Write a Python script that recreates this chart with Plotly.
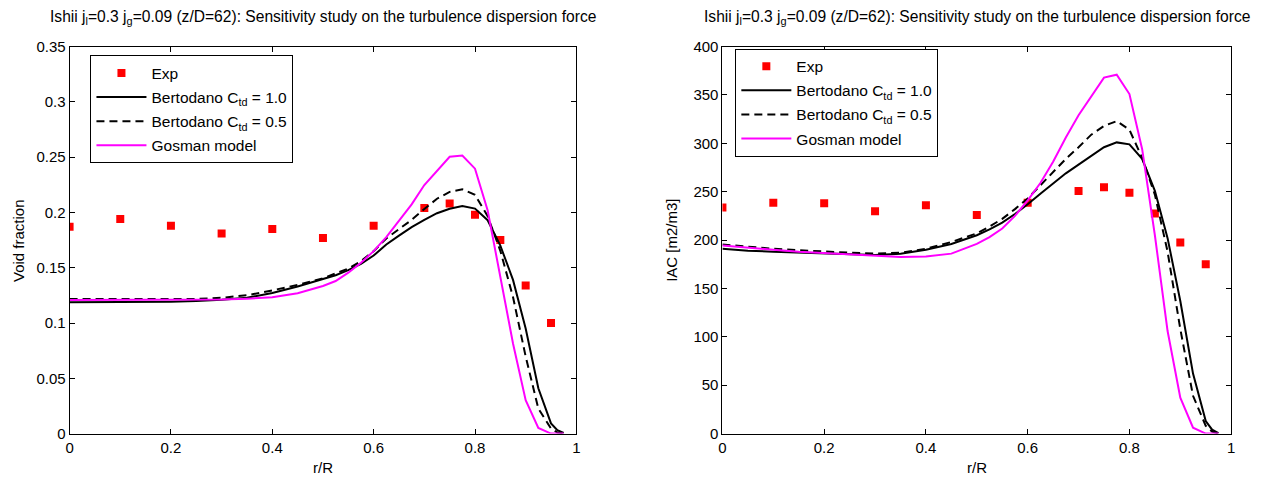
import plotly.graph_objects as go

# Experimental data (Ishii, j_l=0.3, j_g=0.09, z/D=62)
exp_r = [0.0, 0.1, 0.2, 0.3, 0.4, 0.5, 0.6, 0.7, 0.75, 0.8, 0.85, 0.9, 0.95]
exp_void = [0.187, 0.194, 0.188, 0.181, 0.185, 0.177, 0.188, 0.204, 0.208, 0.198, 0.175, 0.134, 0.100]
exp_iac = [233.7, 238.5, 238.0, 229.7, 236.0, 226.0, 238.5, 250.7, 254.5, 249.0, 227.5, 197.5, 175.0]

# Simulation radial positions
sim_r = [0.0, 0.05, 0.1, 0.15, 0.2, 0.25, 0.3, 0.35, 0.4, 0.45, 0.5, 0.525, 0.55, 0.575,
         0.6, 0.625, 0.65, 0.675, 0.7, 0.725, 0.75, 0.775, 0.8, 0.825, 0.85, 0.875,
         0.9, 0.925, 0.95, 0.9625, 0.975]

# Void fraction
void_ctd10 = [0.1187, 0.1187, 0.1188, 0.1190, 0.1193, 0.1199, 0.1210, 0.1228, 0.1272, 0.1330,
              0.1395, 0.1432, 0.1478, 0.1535, 0.1610, 0.1710, 0.1790, 0.1867, 0.1932, 0.1993,
              0.2033, 0.2058, 0.2035, 0.1930, 0.1700, 0.1390, 0.0950, 0.0410, 0.0092, 0.0030, 0.0005]
void_ctd05 = [0.1216, 0.1216, 0.1216, 0.1216, 0.1216, 0.1218, 0.1228, 0.1251, 0.1295, 0.1345,
              0.1405, 0.1445, 0.1492, 0.1560, 0.1650, 0.1765, 0.1846, 0.1933, 0.2031, 0.2124,
              0.2186, 0.2210, 0.2160, 0.1966, 0.1653, 0.1235, 0.0697, 0.0226, 0.0045, 0.0010, 0.0]
void_gosman = [0.1207, 0.1207, 0.1207, 0.1207, 0.1207, 0.1207, 0.1212, 0.1220, 0.1232, 0.1270,
               0.1335, 0.1380, 0.1455, 0.1545, 0.1650, 0.1777, 0.1927, 0.2073, 0.2248, 0.2380,
               0.2504, 0.2515, 0.2396, 0.2018, 0.1417, 0.0815, 0.0302, 0.0050, 0.0, 0.0, 0.0]

# Interfacial area concentration
iac_ctd10 = [191.0, 189.0, 188.0, 187.0, 186.0, 185.0, 184.5, 186.0, 190.0, 196.0,
             205.0, 211.0, 218.0, 227.0, 237.0, 248.0, 259.0, 269.0, 278.0, 287.0,
             296.0, 301.0, 299.0, 284.0, 251.0, 202.0, 137.0, 62.0, 13.0, 4.0, 0.5]
iac_ctd05 = [195.5, 193.0, 191.0, 189.5, 188.0, 187.0, 186.0, 187.0, 191.0, 198.0,
             207.0, 214.0, 222.0, 232.0, 243.0, 257.0, 270.0, 284.0, 296.0, 309.0,
             318.0, 323.0, 314.0, 285.0, 247.0, 188.0, 108.0, 39.0, 8.0, 2.0, 0.0]
iac_gosman = [194.5, 192.0, 190.0, 188.0, 186.5, 185.0, 183.5, 182.5, 183.0, 186.0,
              196.0, 203.0, 212.0, 225.0, 241.0, 259.0, 281.0, 306.0, 329.0, 348.0,
              368.0, 371.0, 351.0, 294.0, 205.0, 106.0, 37.0, 6.0, 0.0, 0.0, 0.0]

names = ["Exp", "Bertodano C<sub>td</sub> = 1.0", "Bertodano C<sub>td</sub> = 0.5", "Gosman model"]
title_txt = ("Ishii j<sub>l</sub>=0.3 j<sub>g</sub>=0.09 (z/D=62): "
             "Sensitivity study on the turbulence dispersion force")

FONT = "Liberation Sans, Arial, Helvetica, sans-serif"
RED = "#ff0000"
MAGENTA = "#ff00ff"

fig = go.Figure()

panels = [
    ("x", "y", "legend", "L", exp_void, [void_ctd10, void_ctd05, void_gosman]),
    ("x2", "y2", "legend2", "R", exp_iac, [iac_ctd10, iac_ctd05, iac_gosman]),
]
for xa, ya, lg, tag, exp_vals, sims in panels:
    fig.add_trace(go.Scatter(
        x=exp_r, y=exp_vals, mode="markers", name=names[0], xaxis=xa, yaxis=ya,
        legend=lg, legendgroup=tag + "0",
        marker=dict(symbol="square", size=8, color=RED, line=dict(width=0))))
    styles = [dict(color="black", width=2, dash="solid"),
              dict(color="black", width=2, dash="8px,5px"),
              dict(color=MAGENTA, width=2, dash="solid")]
    for i, (nm, vals, st) in enumerate(zip(names[1:], sims, styles), start=1):
        fig.add_trace(go.Scatter(
            x=sim_r, y=vals, mode="lines", name=nm, xaxis=xa, yaxis=ya,
            legend=lg, legendgroup=tag + str(i), line=st))

W, H = 1264, 484
left_dom = [66 / W, 576 / W]
right_dom = [723 / W, 1235 / W]
y_dom = [44 / H, 445 / H]

axis_common = dict(
    showline=True, linecolor="black", linewidth=1, mirror="ticks",
    ticks="inside", ticklen=5, tickcolor="black", tickwidth=1,
    showgrid=False, zeroline=False,
    tickfont=dict(family=FONT, size=15, color="black"),
)

legend_common = dict(
    xanchor="left", yanchor="top", bordercolor="black", borderwidth=1, bgcolor="white",
    font=dict(family=FONT, size=15.5), traceorder="grouped", tracegroupgap=1,
    itemwidth=50,
)

fig.update_layout(
    width=W, height=H,
    margin=dict(l=0, r=0, t=0, b=0),
    paper_bgcolor="white", plot_bgcolor="white",
    font=dict(family=FONT, size=15, color="black"),
    xaxis=dict(domain=left_dom, anchor="y", range=[0, 1], dtick=0.2, **axis_common),
    yaxis=dict(domain=y_dom, anchor="x", range=[0, 0.35], dtick=0.05, **axis_common),
    xaxis2=dict(domain=right_dom, anchor="y2", range=[0, 1], dtick=0.2, **axis_common),
    yaxis2=dict(domain=y_dom, anchor="x2", range=[0, 400], dtick=50, **axis_common),
    legend=dict(x=87 / W, y=1 - 48 / H, **legend_common),
    legend2=dict(x=736 / W, y=1 - 41 / H, **legend_common),
    showlegend=True,
)

annots = []
for xref in ("x domain", "x2 domain"):
    annots.append(dict(text=title_txt, xref=xref, yref="paper", x=0.5, y=1 - 9 / H,
                       xanchor="center", yanchor="middle", showarrow=False,
                       font=dict(family=FONT, size=15.6)))
    annots.append(dict(text="r/R", xref=xref, yref="paper", x=0.5, y=1 - 475 / H,
                       xanchor="center", yanchor="middle", showarrow=False,
                       font=dict(family=FONT, size=15)))
annots.append(dict(text="Void fraction", xref="paper", yref="y domain", x=14 / W, y=0.5,
                   xanchor="center", yanchor="middle", textangle=-90, showarrow=False,
                   font=dict(family=FONT, size=15)))
annots.append(dict(text="IAC [m2/m3]", xref="paper", yref="y2 domain", x=671 / W, y=0.5,
                   xanchor="center", yanchor="middle", textangle=-90, showarrow=False,
                   font=dict(family=FONT, size=15)))
fig.update_layout(annotations=annots)

fig.write_html("out.html")
